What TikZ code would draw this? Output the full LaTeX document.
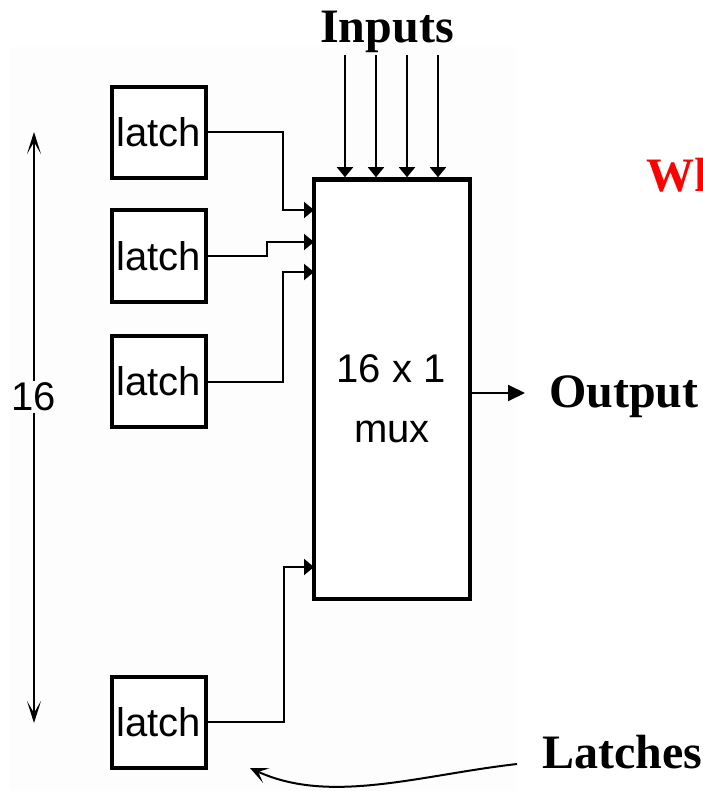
\documentclass[tikz,border=0pt]{standalone}
\usepackage{fontspec}
\setmainfont{Liberation Serif}
\setsansfont{Liberation Sans}
\usetikzlibrary{arrows.meta}
\definecolor{bgc}{RGB}{253,253,253}
\definecolor{redtxt}{RGB}{255,0,0}
\begin{document}
\begin{tikzpicture}[x=1pt,y=-1pt,
  latchbox/.style={draw, line width=4pt, fill=white, minimum width=94pt, minimum height=91pt, inner sep=0pt,
    font=\sffamily\fontsize{40}{42}\selectfont},
  muxbox/.style={draw, line width=4.5pt, fill=white, minimum width=156pt, minimum height=419.5pt, inner sep=0pt},
  sanslabel/.style={font=\sffamily\fontsize{40}{42}\selectfont, inner sep=0pt},
  boldlabel/.style={font=\bfseries\fontsize{48}{50}\selectfont, inner sep=0pt},
  wire/.style={line width=2pt},
  inwire/.style={line width=1.5pt},
  intip/.style={-{Triangle[length=10pt,width=16pt]}},
  outtip/.style={-{Triangle[length=17pt,width=16pt]}},
  dimtip/.style={{Stealth[length=22pt,width=14pt,inset=12pt]}-{Stealth[length=22pt,width=14pt,inset=12pt]}},
  curvetip/.style={-{Stealth[length=18pt,width=16pt,inset=9pt]}}]
\useasboundingbox (0,0) rectangle (702,791);
\fill[bgc] (10,47) rectangle (516,791);

% mux
\node[muxbox] (mux) at (392,389.25) {};
\node[sanslabel, anchor=base] (t16x1) at (391,382) {16 x 1};
\node[sanslabel, anchor=base] (tmux) at (392,442) {mux};

% latches
\node[latchbox] (l1) at (159,132.5) {latch};
\node[latchbox] (l2) at (159,256) {latch};
\node[latchbox] (l3) at (159,381.5) {latch};
\node[latchbox] (l4) at (159,722) {latch};

% mux input points
\coordinate (m1) at (314,210);
\coordinate (m2) at (314,242);
\coordinate (m3) at (314,272);
\coordinate (m4) at (314,567);

\draw[wire, intip] (l1.east) -- ++(75,0) |- (m1);
\draw[wire, intip] (l2.east) -- ++(59,0) |- (m2);
\draw[wire, intip] (l3.east) -- ++(75,0) |- (m3);
\draw[wire, intip] (l4.east) -- ++(76,0) |- (m4);

% inputs
\node[boldlabel, anchor=base] (inputs) at (387,43) {Inputs};
\coordinate (i1) at (345,55);
\coordinate (i2) at (376,55);
\coordinate (i3) at (407,55);
\coordinate (i4) at (438,55);
\foreach \i in {i1,i2,i3,i4}
  \draw[inwire, intip] (\i) -- (\i |- mux.north);

% output
\coordinate (oe) at (525,393);
\draw[wire, outtip] (mux.east |- oe) -- (oe);
\node[boldlabel, anchor=base west] (output) at (549,407) {Output};

% dimension arrow 16
\coordinate (dtop) at (34,132);
\coordinate (dbot) at (34,723);
\draw[wire, dimtip] (dtop) -- (dbot);
\node[sanslabel, fill=bgc, inner sep=2pt] (n16) at (34,397) {16};

% red title (cut off at the right edge, as in the reference)
\node[boldlabel, text=redtxt, anchor=base west] (wh) at (646,192) {Wh};

% latches label and curved arrow
\node[boldlabel, anchor=base west] (latches) at (542,768) {Latches};
\coordinate (cstart) at (517,764);
\coordinate (cend) at (250,768);
\draw[wire, curvetip] (cstart) .. controls (420,775) and (330,805) .. (cend);
\end{tikzpicture}
\end{document}
